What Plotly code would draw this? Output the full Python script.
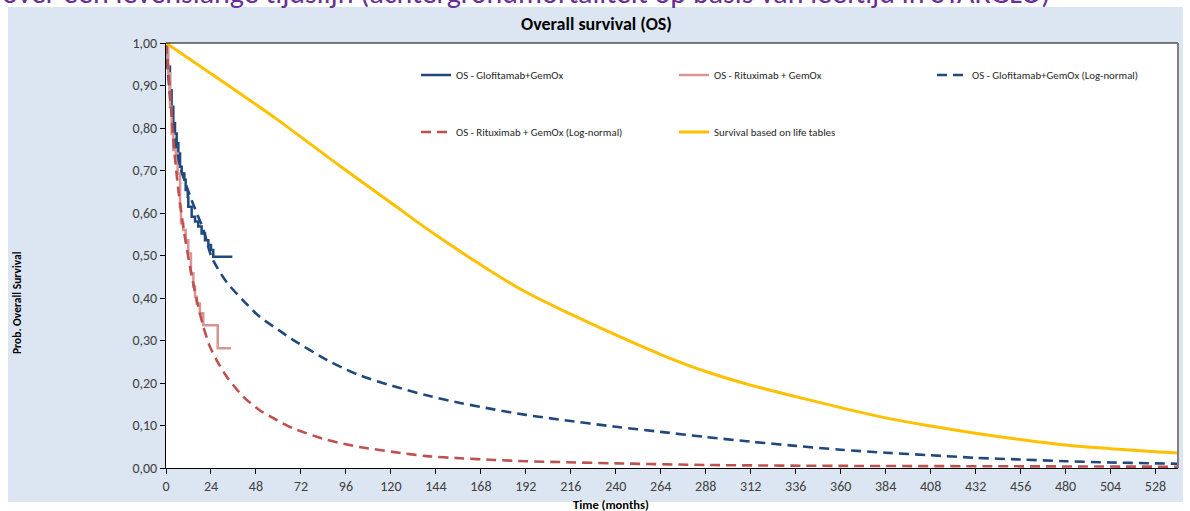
import plotly.graph_objects as go

# ---------------- data ----------------
glofit_km_t = [0, 0.9, 2.1, 3.0, 3.9, 4.8, 5.7, 6.6, 7.5, 8.4, 9.8, 10.5, 11.6, 11.9, 13.7,
               15.5, 17.2, 19.0, 20.8, 22.6, 24.0, 25.2, 35.4]
glofit_km_s = [1.0, 0.944, 0.889, 0.85, 0.811, 0.787, 0.764, 0.74, 0.709, 0.693, 0.678, 0.654,
               0.638, 0.615, 0.591, 0.58, 0.568, 0.552, 0.536, 0.525, 0.513, 0.497, 0.497]

ritux_km_t = [0, 1.2, 2.1, 3.0, 3.9, 5.2, 6.2, 7.5, 8.0, 9.2, 10.5, 11.9, 13.3, 14.6, 15.5,
              16.4, 18.1, 19.9, 27.6, 34.7]
ritux_km_s = [1.0, 0.929, 0.85, 0.787, 0.748, 0.74, 0.693, 0.615, 0.576, 0.56, 0.536, 0.505,
              0.458, 0.427, 0.403, 0.387, 0.364, 0.336, 0.282, 0.282]

glofit_ln_t = [0, 2, 4, 7.5, 12.8, 15.5, 20, 24, 27, 32.4, 41, 50, 60, 68, 86, 96, 104, 121,
               139, 157, 175, 192, 210, 240, 264, 288, 312, 336, 360, 384, 408, 432, 456, 480,
               504, 528, 540]
glofit_ln_s = [1.0, 0.88, 0.80, 0.71, 0.64, 0.61, 0.56, 0.50, 0.474, 0.437, 0.395, 0.356,
               0.325, 0.301, 0.254, 0.232, 0.217, 0.193, 0.171, 0.153, 0.138, 0.125, 0.114,
               0.097, 0.085, 0.073, 0.062, 0.052, 0.043, 0.036, 0.030, 0.024, 0.020, 0.016,
               0.013, 0.011, 0.010]

ritux_ln_t = [0, 2.1, 3.9, 6.6, 9.2, 12.8, 16.4, 19.9, 23.5, 27, 32.4, 41.2, 50, 59, 68, 86,
              96, 104, 121, 139, 157, 175, 192, 210, 240, 290, 360, 450, 540]
ritux_ln_s = [1.0, 0.889, 0.772, 0.654, 0.568, 0.474, 0.395, 0.333, 0.285, 0.254, 0.215,
              0.168, 0.136, 0.113, 0.093, 0.066, 0.056, 0.049, 0.038, 0.028, 0.023, 0.019,
              0.016, 0.014, 0.011, 0.007, 0.005, 0.004, 0.003]

life_t = [0, 18, 36, 60, 93, 120, 144, 168, 192, 216, 240, 264, 288, 312, 336, 360, 384, 408,
          432, 456, 480, 504, 528, 540]
life_s = [1.0, 0.946, 0.892, 0.818, 0.71, 0.624, 0.548, 0.478, 0.414, 0.362, 0.313, 0.267,
          0.227, 0.195, 0.168, 0.142, 0.118, 0.099, 0.082, 0.067, 0.054, 0.0455, 0.0385, 0.0352]

x_ticks = list(range(0, 529, 24))
y_ticks = [i / 10 for i in range(11)]

# ---------------- layout geometry ----------------
W, H = 1190, 511
L, R, T, B = 166, 12, 43, 43
PW, PH = W - L - R, H - T - B


def px(xp):
    return (xp - L) / PW


def py(yp):
    return (H - B - yp) / PH


FONT = "Liberation Sans Narrow, Carlito, Arial Narrow, Open Sans, sans-serif"
TXT = "#404040"

fig = go.Figure()

fig.add_trace(go.Scatter(x=glofit_km_t, y=glofit_km_s, mode="lines", line_shape="hv",
                         name="OS - Glofitamab+GemOx",
                         line=dict(color="#1F497D", width=2.5), legend="legend"))
fig.add_trace(go.Scatter(x=ritux_km_t, y=ritux_km_s, mode="lines", line_shape="hv",
                         name="OS - Rituximab + GemOx",
                         line=dict(color="#D99594", width=2.5), legend="legend"))
fig.add_trace(go.Scatter(x=glofit_ln_t, y=glofit_ln_s, mode="lines", line_shape="spline",
                         line_smoothing=0.8,
                         name="OS - Glofitamab+GemOx (Log-normal)",
                         line=dict(color="#1F497D", width=2.6, dash="10px,6px"),
                         legend="legend"))
fig.add_trace(go.Scatter(x=ritux_ln_t, y=ritux_ln_s, mode="lines", line_shape="spline",
                         line_smoothing=0.8,
                         name="OS - Rituximab + GemOx (Log-normal)",
                         line=dict(color="#C0504D", width=2.6, dash="10px,6px"),
                         legend="legend2"))
fig.add_trace(go.Scatter(x=life_t, y=life_s, mode="lines", line_shape="spline",
                         line_smoothing=1.0,
                         name="Survival based on life tables",
                         line=dict(color="#FFC000", width=3), legend="legend2"))

legend_common = dict(orientation="h", xanchor="left", yanchor="middle",
                     font=dict(family=FONT, size=10.8, color="#262626"),
                     bgcolor="rgba(0,0,0,0)", entrywidth=213, entrywidthmode="pixels",
                     itemwidth=30, traceorder="normal")

fig.update_layout(
    width=W, height=H,
    margin=dict(l=L, r=R, t=T, b=B, pad=0, autoexpand=False),
    paper_bgcolor="white",
    plot_bgcolor="rgba(0,0,0,0)",
    separators=", ",
    showlegend=True,
    legend=dict(x=px(416), y=py(75), **legend_common),
    legend2=dict(x=px(416), y=py(132), **legend_common),
    xaxis=dict(range=[0, 540], tickmode="array", tickvals=x_ticks,
               ticktext=[str(v) for v in x_ticks],
               showgrid=False, zeroline=False, showline=True, linecolor="black",
               linewidth=1, ticks="outside", ticklen=5, tickcolor="black",
               tickfont=dict(family=FONT, size=14, color=TXT)),
    yaxis=dict(range=[0, 1], tickmode="array", tickvals=y_ticks,
               tickformat=".2f",
               showgrid=False, zeroline=False, showline=True, linecolor="black",
               linewidth=1, ticks="outside", ticklen=5, tickcolor="black",
               tickfont=dict(family=FONT, size=14, color=TXT)),
    shapes=[
        # light-blue chart panel
        dict(type="rect", xref="paper", yref="paper", x0=px(8), x1=px(1183),
             y0=py(502), y1=py(7), fillcolor="#DCE6F2", line=dict(width=0), layer="below"),
        # white plot area
        dict(type="rect", xref="paper", yref="paper", x0=0, x1=1, y0=0, y1=1,
             fillcolor="white", line=dict(width=0), layer="below"),
        # plot area border: top (dark) and right (grey)
        dict(type="line", xref="paper", yref="paper", x0=0, x1=1, y0=1, y1=1,
             line=dict(color="black", width=1)),
        dict(type="line", xref="paper", yref="paper", x0=1, x1=1, y0=0, y1=1,
             line=dict(color="#808080", width=2)),
    ],
    annotations=[
        dict(text="over een levenslange tijdslijn (achtergrondmortaliteit op basis van leeftijd in STARGLO)",
             xref="paper", yref="paper", x=px(0), y=py(-7), xanchor="left", yanchor="middle",
             showarrow=False, font=dict(family=FONT, size=30, color="#6B2E91")),
        dict(text="<b>Overall survival (OS)</b>", xref="paper", yref="paper",
             x=px(596), y=py(24), xanchor="center", yanchor="middle", showarrow=False,
             font=dict(family=FONT, size=18, color="black")),
        dict(text="<b>Time (months)</b>", xref="paper", yref="paper",
             x=px(611), y=py(504), xanchor="center", yanchor="middle", showarrow=False,
             font=dict(family=FONT, size=12.5, color="black")),
        dict(text="<b>Prob. Overall Survival</b>", xref="paper", yref="paper",
             x=px(17), y=py(303), xanchor="center", yanchor="middle", showarrow=False,
             textangle=-90, font=dict(family=FONT, size=11.5, color="black")),
    ],
)

fig.write_html("out.html")
